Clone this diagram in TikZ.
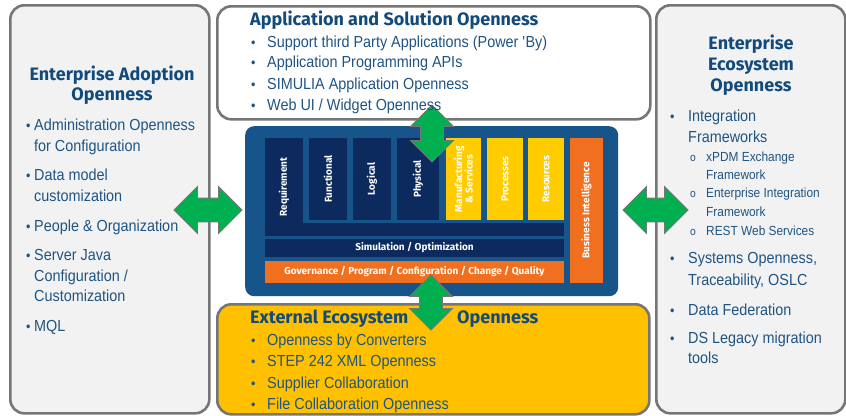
\documentclass[tikz,border=0pt]{standalone}
\usepackage{fontspec}
\setmainfont{Liberation Sans}
\newfontfamily\bodyfont[FakeStretch=0.9]{Liberation Sans}
\newfontfamily\headfont{Fira Sans}
\usetikzlibrary{shapes.arrows}
\definecolor{panelgrey}{HTML}{F2F2F2}
\definecolor{panelline}{HTML}{767676}
\definecolor{ecoyellow}{HTML}{FFC000}
\definecolor{coreblue}{HTML}{165489}
\definecolor{corenavy}{HTML}{0C2A5E}
\definecolor{coreorange}{HTML}{F0701F}
\definecolor{coreyellow}{HTML}{FFCC00}
\definecolor{arrowgreen}{HTML}{00B050}
\definecolor{titleblue}{HTML}{124A7C}
\definecolor{textblue}{HTML}{1F5483}
\tikzset{
  panel/.style={draw=panelline, line width=2.6pt, rounded corners=14pt, inner sep=0pt, anchor=north west},
  col/.style={rotate=90, inner sep=0pt, align=center, text=white,
    font=\headfont\bfseries\fontsize{10}{10.5}\selectfont},
  bar/.style={inner sep=0pt, text=white, font=\headfont\bfseries\fontsize{10}{11}\selectfont},
  twoway/.style={double arrow, fill=arrowgreen, draw=panelline, line width=0.8pt,
    inner xsep=0pt, double arrow tip angle=90},
  hd/.style={inner sep=0pt, text=titleblue, font=\headfont\bfseries\fontsize{18}{20}\selectfont},
  bl/.style={anchor=base west, inner sep=0pt, text=textblue, font=\bodyfont\fontsize{16}{19}\selectfont},
  sl/.style={anchor=base west, inner sep=0pt, text=textblue, font=\bodyfont\fontsize{13.2}{15}\selectfont},
  dot/.style={anchor=base west, inner sep=0pt, text=textblue, font=\bodyfont\fontsize{14}{16}\selectfont},
  ring/.style={anchor=base west, inner sep=0pt, text=textblue, font=\bodyfont\fontsize{11.5}{12}\selectfont}
}
\begin{document}
\begin{tikzpicture}[x=1pt,y=-1pt]
\useasboundingbox (0,0) rectangle (846,415);
\fill[white] (0,0) rectangle (846,415);
% panels
\node[panel, fill=panelgrey, minimum width=199pt, minimum height=408pt] (adopt) at (9,4) {};
\node[panel, fill=white, minimum width=433pt, minimum height=113pt] (appsol) at (216,5) {};
\node[panel, fill=ecoyellow, minimum width=432pt, minimum height=110pt] (extern) at (216,303) {};
\node[panel, fill=panelgrey, minimum width=189pt, minimum height=408pt] (entero) at (655,4) {};
% core
\node[fill=coreblue, rounded corners=9pt, minimum width=373pt, minimum height=170pt, anchor=north west, inner sep=0pt] (core) at (245,126) {};
\node[col, fill=corenavy, minimum width=98pt, minimum height=38pt] (req) at (284,187) {Requirement};
\node[fill=corenavy, minimum width=261pt, minimum height=13pt, anchor=north west, inner sep=0pt] (band) at (303,223) {};
\node[col, fill=corenavy, minimum width=82pt, minimum height=38pt] (func) at (328,179) {Functional};
\node[col, fill=corenavy, minimum width=82pt, minimum height=38pt] (logi) at (372,179) {Logical};
\node[col, fill=corenavy, minimum width=82pt, minimum height=42pt] (phys) at (418,179) {Physical};
\node[col, fill=coreyellow, minimum width=82pt, minimum height=35pt] (manu) at (463.5,179) {Manufacturing\\\& Services};
\node[col, fill=coreyellow, minimum width=82pt, minimum height=36pt] (proc) at (505,179) {Processes};
\node[col, fill=coreyellow, minimum width=82pt, minimum height=36pt] (reso) at (546,179) {Resources};
\node[bar, fill=corenavy, minimum width=299pt, minimum height=18pt] (simu) at (414.5,248) {Simulation / Optimization};
\node[bar, fill=coreorange, minimum width=299pt, minimum height=22pt] (gov) at (414.5,272) {Governance / Program / Configuration / Change / Quality};
\node[col, fill=coreorange, minimum width=145pt, minimum height=33pt] (bi) at (586.5,210.5) {Business Intelligence};
% arrows
\node[twoway, minimum height=68pt, inner ysep=11.5pt, double arrow head extend=11.5pt] (arrL) at (208,210) {};
\node[twoway, minimum height=65pt, inner ysep=11.5pt, double arrow head extend=11.5pt] (arrR) at (655.5,210) {};
\node[twoway, rotate=90, minimum height=57pt, inner ysep=11pt, double arrow head extend=10pt] (arrT) at (432,133.5) {};
\node[twoway, rotate=90, minimum height=55pt, inner ysep=11pt, double arrow head extend=10pt] (arrB) at (431,302.5) {};
% left panel text
\node[hd, anchor=base] (adoptT1) at (112,80) {Enterprise Adoption};
\node[hd, anchor=base] (adoptT2) at (112,100.7) {Openness};
\foreach \y [count=\i] in {130.7,180,231,260,331.7}
  \node[dot] (adoptB\i) at (26,\y) {\textbullet};
\foreach \y/\t [count=\i] in {130.7/Administration Openness, 151.7/for Configuration,
    180/Data model, 201/customization, 231/People \& Organization, 260/Server Java,
    281/{Configuration /}, 301.7/Customization, 331.7/MQL}
  \node[bl] (adoptL\i) at (34,\y) {\t};
% top panel text
\node[hd, anchor=base west] (appsolT) at (250,25) {Application and Solution Openness};
\foreach \y [count=\i] in {47.3,67.7,89.3,110}
  \node[dot] (appsolB\i) at (251,\y) {\textbullet};
\foreach \y/\t [count=\i] in {47.3/Support third Party Applications (Power \textquotesingle By),
    67.7/Application Programming APIs, 89.3/SIMULIA Application Openness, 110/{Web UI / Widget Openness}}
  \node[bl] (appsolL\i) at (267,\y) {\t};
% bottom panel text
\node[hd, anchor=base west] (externT1) at (250,323.3) {External Ecosystem};
\node[hd, anchor=base west] (externT2) at (457,323.3) {Openness};
\foreach \y [count=\i] in {345,366.7,388.3,409.3}
  \node[dot] (externB\i) at (251,\y) {\textbullet};
\foreach \y/\t [count=\i] in {345/Openness by Converters, 366.7/STEP 242 XML Openness,
    388.3/Supplier Collaboration, 409.3/File Collaboration Openness}
  \node[bl] (externL\i) at (267,\y) {\t};
% right panel text
\node[hd, anchor=base] (enteroT1) at (751,49.3) {Enterprise};
\node[hd, anchor=base] (enteroT2) at (751,70) {Ecosystem};
\node[hd, anchor=base] (enteroT3) at (751,91.7) {Openness};
\foreach \y [count=\i] in {121.7,263.3,315,343.3}
  \node[dot] (enteroB\i) at (670,\y) {\textbullet};
\foreach \y/\t [count=\i] in {121.7/Integration, 142.3/Frameworks, 263.3/{Systems Openness,},
    285/{Traceability, OSLC}, 315/Data Federation, 343.3/DS Legacy migration, 363.3/tools}
  \node[bl] (enteroL\i) at (688,\y) {\t};
\foreach \y [count=\i] in {161.7,197.7,235}
  \node[ring] (enteroR\i) at (690,\y) {o};
\foreach \y/\t [count=\i] in {161.7/xPDM Exchange, 179.3/Framework, 197.7/Enterprise Integration,
    216.7/Framework, 235/REST Web Services}
  \node[sl] (enteroS\i) at (706,\y) {\t};
\end{tikzpicture}
\end{document}
